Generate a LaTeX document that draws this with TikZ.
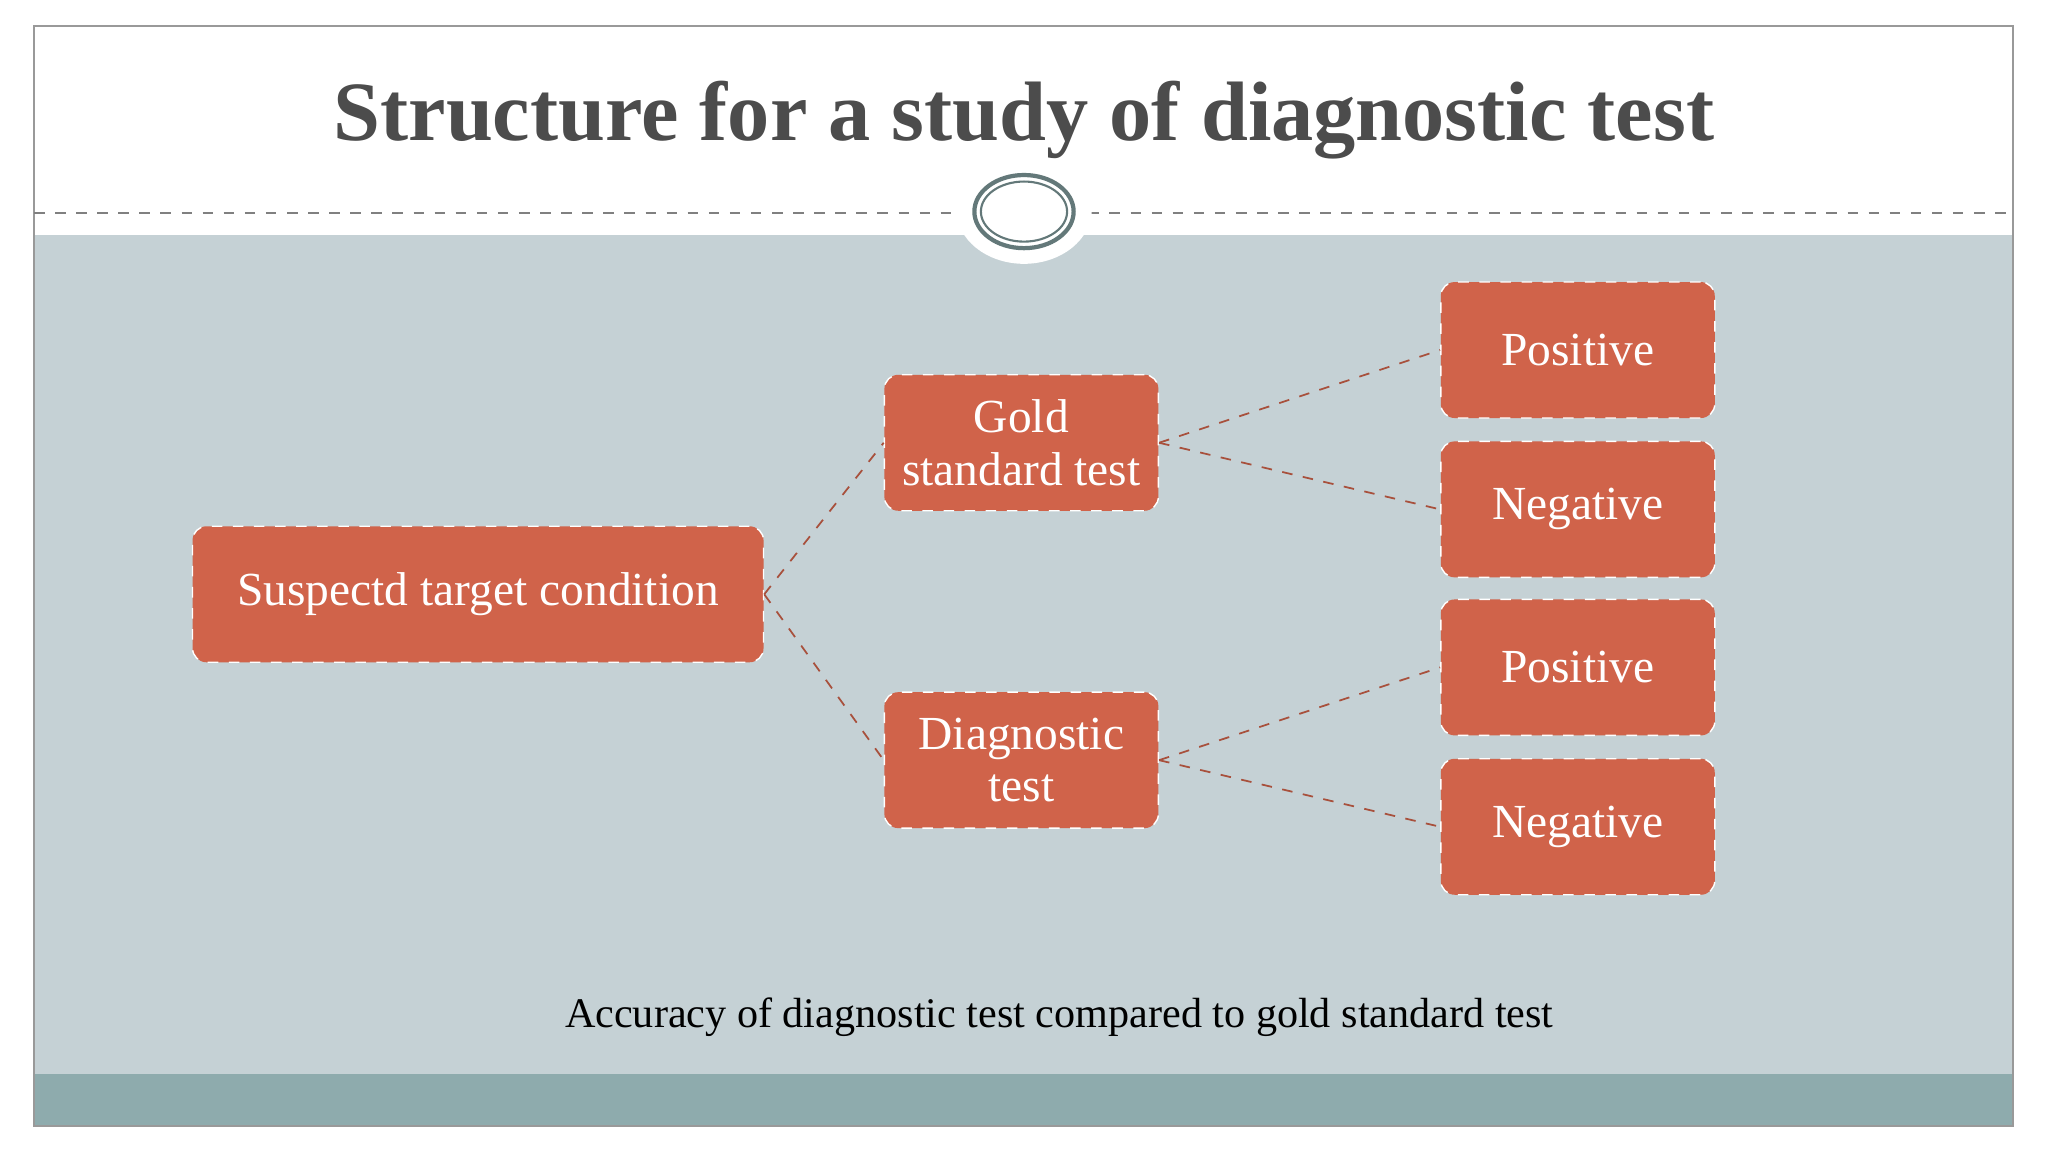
\documentclass[tikz,border=0pt]{standalone}
\usepackage{fontspec}
\setmainfont{Liberation Serif}
\usetikzlibrary{positioning}
\definecolor{boxred}{HTML}{D0634A}
\definecolor{panel}{HTML}{C5D1D5}
\definecolor{band}{HTML}{8EABAD}
\definecolor{linkc}{HTML}{A8503C}
\begin{document}
\begin{tikzpicture}
    [
        x=0.01306cm, y=-0.01306cm,
        basic/.style = {draw=white, dashed, rounded corners=4pt, fill=boxred, text=white, align=center, font=\fontsize{13.5}{15}\selectfont, inner sep=2pt},
        wide/.style = {basic, minimum width=5.71cm, minimum height=1.36cm},
        rect/.style = {basic, minimum width=2.74cm, minimum height=1.36cm},
        link/.style = {draw=linkc, dashed, line width=0.5pt}
    ]
    \useasboundingbox (0,0) rectangle (1568,882);
    \fill[white] (0,0) rectangle (1568,882);
    \fill[panel] (26,180) rectangle (1541,822);
    \fill[band] (26,822) rectangle (1541,862);
    \draw[gray!80, line width=0.6pt] (26,20) rectangle (1541,862);
    \draw[gray, dashed, line width=0.4pt] (26,163) -- (1541,163);
    \fill[white] (784,160) ellipse (52 and 42);
    \draw[band!70!black, line width=1.2pt] (784,162) ellipse (38 and 28);
    \draw[band!70!black, line width=0.6pt] (784,162) ellipse (33 and 23);
    \node[font=\fontsize{24}{24}\selectfont\bfseries, text=gray!60!black] (title) at (784,92) {Structure for a study of diagnostic test};

    \node [wide] (root) at (366,455) {Suspectd target condition};
    \node [rect] (gold) at (782,339) {Gold\\standard test};
    \node [rect] (diag) at (782,582) {Diagnostic\\test};
    \node [rect] (pos1) at (1208,268) {Positive};
    \node [rect] (neg1) at (1208,390) {Negative};
    \node [rect] (pos2) at (1208,511) {Positive};
    \node [rect] (neg2) at (1208,633) {Negative};

    \draw [link] (root.east) -- (gold.west);
    \draw [link] (root.east) -- (diag.west);
    \draw [link] (gold.east) -- (pos1.west);
    \draw [link] (gold.east) -- (neg1.west);
    \draw [link] (diag.east) -- (pos2.west);
    \draw [link] (diag.east) -- (neg2.west);

    \node[font=\fontsize{12}{12}\selectfont] (note) at (811,779) {Accuracy of diagnostic test compared to gold standard test};
\end{tikzpicture}
\end{document}
